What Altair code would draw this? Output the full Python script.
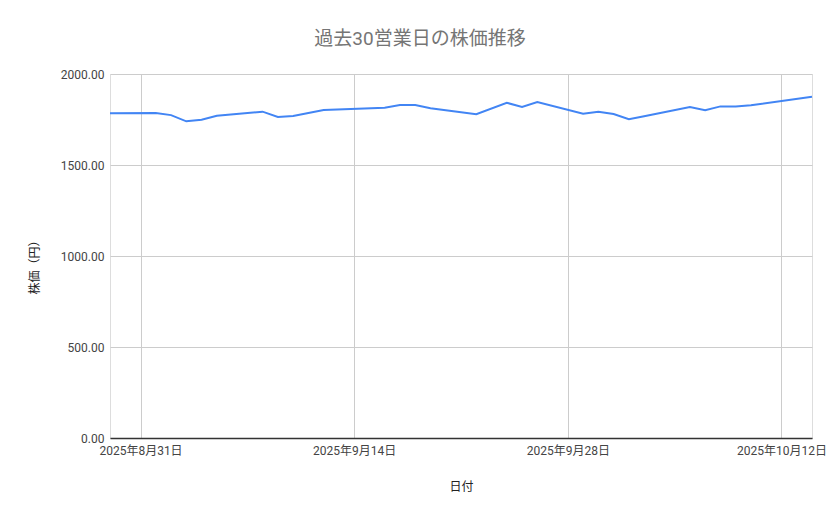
import altair as alt
import pandas as pd

dates = [
    "2025-08-29",
    "2025-09-01", "2025-09-02", "2025-09-03", "2025-09-04", "2025-09-05",
    "2025-09-08", "2025-09-09", "2025-09-10", "2025-09-11", "2025-09-12",
    "2025-09-16", "2025-09-17", "2025-09-18", "2025-09-19",
    "2025-09-22", "2025-09-24", "2025-09-25", "2025-09-26",
    "2025-09-29", "2025-09-30", "2025-10-01", "2025-10-02", "2025-10-03",
    "2025-10-06", "2025-10-07", "2025-10-08", "2025-10-09", "2025-10-10",
    "2025-10-14",
]
prices = [
    1784,
    1786, 1774, 1740, 1749, 1771,
    1793, 1764, 1769, 1786, 1802,
    1815, 1830, 1830, 1812,
    1779, 1842, 1819, 1846,
    1782, 1793, 1780, 1751, 1768,
    1819, 1801, 1822, 1822, 1828,
    1875,
]
y_ticks = [0, 500, 1000, 1500, 2000]
x_ticks = [(2025, 8, 31), (2025, 9, 14), (2025, 9, 28), (2025, 10, 12)]

df = pd.DataFrame({"date": dates, "price": prices})

FONT = "Roboto, Noto Sans CJK JP, sans-serif"

chart = (
    alt.Chart(df)
    .mark_line(color="#4285F4", strokeWidth=2)
    .encode(
        x=alt.X(
            "date:T",
            scale=alt.Scale(
                type="utc",
                domain=[
                    alt.DateTime(year=2025, month=8, date=29, utc=True),
                    alt.DateTime(year=2025, month=10, date=14, utc=True),
                ],
            ),
            axis=alt.Axis(
                title="日付",
                values=[alt.DateTime(year=y, month=m, date=d, utc=True) for (y, m, d) in x_ticks],
                labelExpr="utcFormat(datum.value, '%Y年%-m月%-d日')",
                grid=True,
                gridColor="#cccccc",
                domainColor="#333333",
                domainWidth=1.5,
                ticks=False,
                labelPadding=7,
                labelFontSize=12,
                labelColor="#444444",
                labelFont=FONT,
                labelOverlap=False,
                labelBound=False,
                labelFlush=False,
                titleFont=FONT,
                titleFontSize=12,
                titleFontWeight="normal",
                titleColor="#222222",
                titleY=48,
                titleBaseline="middle",
            ),
        ),
        y=alt.Y(
            "price:Q",
            scale=alt.Scale(domain=[0, 2000], nice=False),
            axis=alt.Axis(
                title="株価（円）",
                values=y_ticks,
                format=".2f",
                grid=True,
                gridColor="#cccccc",
                domain=False,
                ticks=False,
                labelPadding=6,
                labelFontSize=12,
                labelColor="#444444",
                labelFont=FONT,
                titleFont=FONT,
                titleFontSize=12,
                titleFontWeight="normal",
                titleColor="#222222",
                titleX=-76,
                titleY=190,
                titleAlign="center",
                titleBaseline="middle",
                titleAngle=-90,
            ),
        ),
    )
    .properties(
        width=702,
        height=364,
        padding={"left": 102, "top": 66, "right": 19, "bottom": 73},
        autosize=alt.AutoSizeParams(type="none"),
        title=alt.TitleParams(
            text="過去30営業日の株価推移",
            font=FONT,
            fontSize=19,
            fontWeight="normal",
            color="#757575",
            anchor="middle",
            dx=-41,
            offset=19,
        ),
    )
    .configure_view(stroke=None)
    .configure(background="white")
)

chart.save("out.html", embed_options={"renderer": "svg", "actions": False})
